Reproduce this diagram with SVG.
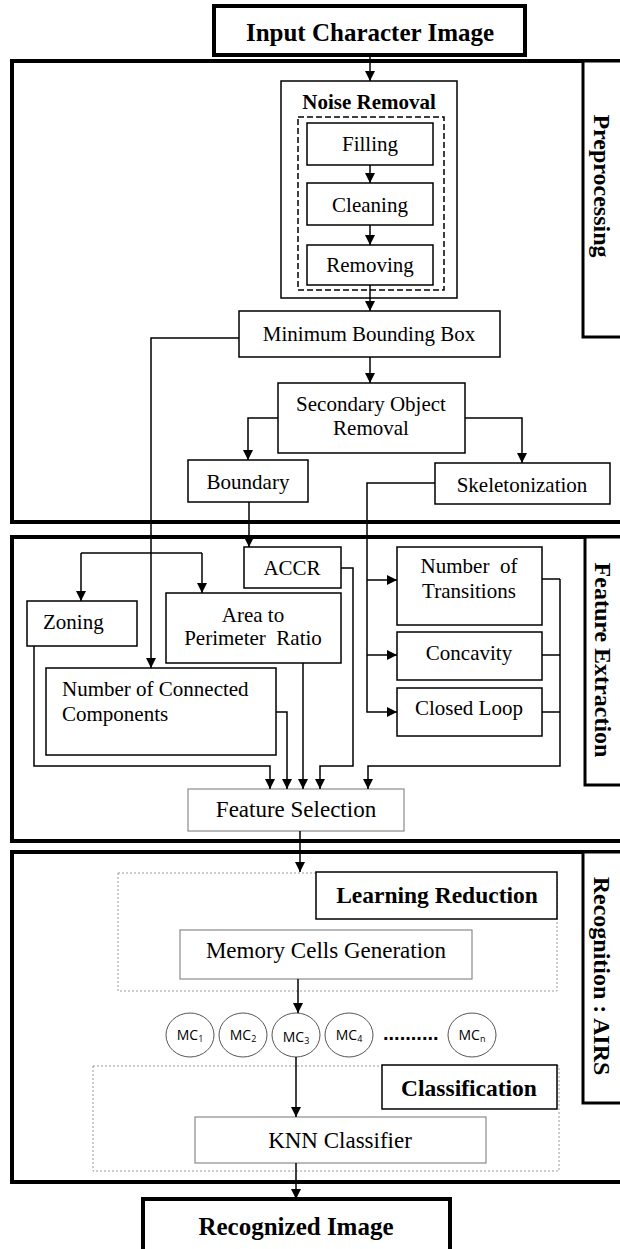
<svg xmlns="http://www.w3.org/2000/svg" width="620" height="1249" viewBox="0 0 620 1249">
<defs>
<style>
.panel{fill:none;stroke:#000;stroke-width:4}
.lbl{fill:#fff;stroke:#000;stroke-width:3}
.thick{fill:#fff;stroke:#000;stroke-width:4}
.box{fill:#fff;stroke:#000;stroke-width:1.5}
.gbox{fill:#fff;stroke:#8a8a8a;stroke-width:1.2}
.dot{fill:none;stroke:#999;stroke-width:1;stroke-dasharray:2,2}
.dash{fill:none;stroke:#000;stroke-width:1.5;stroke-dasharray:6,3}
.circ{fill:#fff;stroke:#555;stroke-width:1}
.t{font-family:"Liberation Serif","Times New Roman",serif;font-size:21px;fill:#000}
.tg{font-family:"Liberation Serif","Times New Roman",serif;font-size:23px;fill:#000}
.b{font-family:"Liberation Serif","Times New Roman",serif;font-weight:bold;fill:#000}
.mc{font-family:"Open Sans","Liberation Sans",sans-serif;font-size:14px;fill:#000}
.c{text-anchor:middle}
#connectors path{fill:none;stroke:#000;stroke-width:1.5}
</style>
<marker id="ah" viewBox="0 0 10 10" refX="10" refY="5" markerWidth="10" markerHeight="10" markerUnits="userSpaceOnUse" orient="auto">
<path d="M0,0 L10,5 L0,10 z" fill="#000"/>
</marker>
</defs>
<rect width="620" height="1249" fill="#fff"/>

<g id="panel-preprocessing">
<rect class="panel" x="12" y="61" width="640" height="461"/>
<rect class="lbl" x="583" y="61" width="60" height="276"/>
<text class="b c" font-size="24" transform="translate(602,186) rotate(90)" y="8">Preprocessing</text>
</g>
<g id="panel-feature">
<rect class="panel" x="12" y="537" width="640" height="304"/>
<rect class="lbl" x="585" y="537" width="60" height="248"/>
<text class="b c" font-size="24" transform="translate(603,660) rotate(90)" y="8">Feature Extraction</text>
</g>
<g id="panel-recognition">
<rect class="panel" x="12" y="852" width="640" height="330"/>
<rect class="lbl" x="583" y="852" width="60" height="251"/>
<text class="b c" font-size="24" transform="translate(602,976) rotate(90)" y="8">Recognition : AIRS</text>
</g>

<g id="learning-area"><rect class="dot" x="118" y="873" width="439" height="118"/></g>
<g id="classification-area"><rect class="dot" x="93" y="1066" width="466" height="105"/></g>

<g id="input"><rect class="thick" x="214" y="6" width="311" height="49"/><text class="b c" font-size="25" x="370" y="41">Input Character Image</text></g>

<g id="noise-removal">
<rect class="box" x="281" y="81" width="176" height="217"/>
<text class="b c" font-size="21" x="369" y="109">Noise Removal</text>
<rect class="dash" x="298" y="117" width="146" height="173"/>
</g>
<g id="filling"><rect class="box" x="307" y="123" width="126" height="42"/><text class="t c" x="370" y="151">Filling</text></g>
<g id="cleaning"><rect class="box" x="307" y="183" width="126" height="42"/><text class="t c" x="370" y="212">Cleaning</text></g>
<g id="removing"><rect class="box" x="307" y="245" width="126" height="40"/><text class="t c" x="370" y="272">Removing</text></g>
<g id="mbb"><rect class="box" x="239" y="311" width="261" height="46"/><text class="t c" x="369" y="341">Minimum Bounding Box</text></g>
<g id="sor"><rect class="box" x="278" y="383" width="187" height="70"/><text class="t c" x="371" y="411">Secondary Object</text><text class="t c" x="371" y="435">Removal</text></g>
<g id="boundary"><rect class="box" x="188" y="460" width="120" height="42"/><text class="t c" x="248" y="489">Boundary</text></g>
<g id="skeleton"><rect class="box" x="435" y="463" width="175" height="41"/><text class="t c" x="522" y="492">Skeletonization</text></g>

<g id="accr"><rect class="box" x="244" y="547" width="97" height="41"/><text class="t c" x="292" y="575">ACCR</text></g>
<g id="zoning"><rect class="box" x="27" y="601" width="110" height="45"/><text class="t" x="43" y="629">Zoning</text></g>
<g id="area"><rect class="box" x="166" y="593" width="175" height="70"/><text class="t c" x="253" y="622">Area to</text><text class="t c" x="253" y="645" xml:space="preserve">Perimeter  Ratio</text></g>
<g id="ncc"><rect class="box" x="46" y="668" width="230" height="87"/><text class="t" x="62" y="696">Number of Connected</text><text class="t" x="62" y="721">Components</text></g>
<g id="transitions"><rect class="box" x="397" y="547" width="145" height="78"/><text class="t c" x="469" y="573" xml:space="preserve">Number  of</text><text class="t c" x="469" y="598">Transitions</text></g>
<g id="concavity"><rect class="box" x="397" y="632" width="145" height="48"/><text class="t c" x="469" y="660">Concavity</text></g>
<g id="closed-loop"><rect class="box" x="397" y="688" width="145" height="48"/><text class="t c" x="469" y="715">Closed Loop</text></g>
<g id="feature-selection"><rect class="gbox" x="188" y="789" width="216" height="42"/><text class="tg c" x="296" y="817">Feature Selection</text></g>

<g id="learning-reduction"><rect class="box" x="316" y="872" width="241" height="47"/><text class="b c" font-size="23.5" x="437" y="903">Learning Reduction</text></g>
<g id="mcg"><rect class="gbox" x="180" y="930" width="292" height="49"/><text class="tg c" x="326" y="958">Memory Cells Generation</text></g>
<g id="mc1"><ellipse class="circ" cx="190" cy="1035" rx="24" ry="22"/><text class="mc c" x="190" y="1040">MC<tspan font-size="9" dy="2">1</tspan></text></g>
<g id="mc2"><ellipse class="circ" cx="243" cy="1035" rx="24" ry="22"/><text class="mc c" x="243" y="1040">MC<tspan font-size="9" dy="2">2</tspan></text></g>
<g id="mc3"><ellipse class="circ" cx="296" cy="1035" rx="24" ry="22"/><text class="mc c" x="296" y="1042">MC<tspan font-size="9" dy="2">3</tspan></text></g>
<g id="mc4"><ellipse class="circ" cx="349" cy="1035" rx="24" ry="22"/><text class="mc c" x="349" y="1040">MC<tspan font-size="9" dy="2">4</tspan></text></g>
<g id="dots"><text font-family="Liberation Sans, sans-serif" font-weight="bold" font-size="20" x="383" y="1040">..........</text></g>
<g id="mcn"><ellipse class="circ" cx="472" cy="1035" rx="24" ry="22"/><text class="mc c" x="472" y="1040">MC<tspan font-size="9" dy="2">n</tspan></text></g>

<g id="classification"><rect class="box" x="382" y="1065" width="175" height="44"/><text class="b c" font-size="23.5" x="469" y="1096">Classification</text></g>
<g id="knn"><rect class="gbox" x="195" y="1117" width="291" height="46"/><text class="tg c" x="340" y="1148">KNN Classifier</text></g>
<g id="recognized"><rect class="thick" x="143" y="1199" width="307" height="70"/><text class="b c" font-size="25" x="296" y="1235">Recognized Image</text></g>

<g id="connectors">
<path d="M370,55 V81" marker-end="url(#ah)"/>
<path d="M370,165 V183" marker-end="url(#ah)"/>
<path d="M370,225 V245" marker-end="url(#ah)"/>
<path d="M370,285 V311" marker-end="url(#ah)"/>
<path d="M370,357 V383" marker-end="url(#ah)"/>
<path d="M278,418 H248 V460" marker-end="url(#ah)"/>
<path d="M465,418 H522 V463" marker-end="url(#ah)"/>
<path d="M239,338 H151 V668" marker-end="url(#ah)"/>
<path d="M249,502 V547" marker-end="url(#ah)"/>
<path d="M435,483 H367 V712 H397" marker-end="url(#ah)"/>
<path d="M367,580 H397" marker-end="url(#ah)"/>
<path d="M367,655 H397" marker-end="url(#ah)"/>
<path d="M81,553 H202"/>
<path d="M81,553 V601" marker-end="url(#ah)"/>
<path d="M202,553 V593" marker-end="url(#ah)"/>
<path d="M542,579 H560 M542,655 H560 M542,712 H560"/>
<path d="M560,579 V766 H368 V789" marker-end="url(#ah)"/>
<path d="M341,568 H353 V766 H320 V789" marker-end="url(#ah)"/>
<path d="M34,646 V766 H270 V789" marker-end="url(#ah)"/>
<path d="M276,712 H287 V789" marker-end="url(#ah)"/>
<path d="M303,663 V789" marker-end="url(#ah)"/>
<path d="M300,831 V872" marker-end="url(#ah)"/>
<path d="M298,979 V1013" marker-end="url(#ah)"/>
<path d="M296,1057 V1117" marker-end="url(#ah)"/>
<path d="M296,1163 V1199" marker-end="url(#ah)"/>
</g>
</svg>
